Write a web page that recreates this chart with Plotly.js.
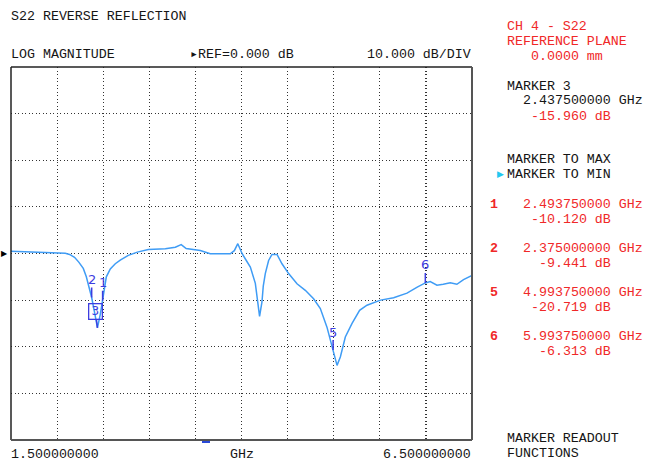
<!DOCTYPE html>
<html>
<head>
<meta charset="utf-8">
<script src="https://cdn.plot.ly/plotly-3.0.1.min.js"></script>
<style>html,body{margin:0;padding:0;background:#fff;}</style>
</head>
<body>
<div id="chart" style="width:645px;height:461px;"></div>
<script>
// ---- data ----
const freqGHz = [1.500, 1.764, 1.991, 2.089, 2.135, 2.189, 2.235, 2.284, 2.317, 2.349, 2.375, 2.410, 2.4375, 2.469, 2.49375, 2.512, 2.534, 2.577, 2.631, 2.685, 2.772, 2.870, 2.989, 3.174, 3.282, 3.346, 3.400, 3.553, 3.661, 3.878, 3.922, 3.960, 4.006, 4.052, 4.096, 4.150, 4.182, 4.196, 4.222, 4.236, 4.258, 4.294, 4.331, 4.385, 4.439, 4.511, 4.602, 4.692, 4.782, 4.855, 4.927, 4.99375, 5.036, 5.072, 5.126, 5.199, 5.281, 5.361, 5.508, 5.650, 5.795, 5.906, 5.99375, 6.047, 6.120, 6.188, 6.264, 6.336, 6.408, 6.500];
const s22dB   = [0.5, 0.3, 0.2, 0.06, -0.2, -0.8, -1.85, -3.2, -5.0, -7.5, -9.441, -13.0, -15.96, -13.0, -10.12, -7.2, -5.0, -3.3, -2.2, -1.4, -0.4, 0.3, 0.85, 1.0, 1.35, 1.9, 1.07, 0.64, -0.07, -0.07, 0.6, 2.1, 0.0, -1.5, -2.9, -6.4, -11.0, -13.5, -10.4, -7.0, -4.3, -1.5, -0.2, -0.2, -2.2, -4.3, -6.5, -7.9, -9.7, -11.8, -15.8, -20.719, -24.0, -22.2, -17.9, -15.0, -12.2, -11.1, -10.0, -9.5, -8.5, -7.2, -6.313, -6.0, -6.8, -6.6, -6.3, -6.6, -5.6, -4.7];

const markerNums = ['1', '2', '3', '5', '6'];
const markerFreq = [2.49375, 2.375, 2.4375, 4.99375, 5.99375];
const markerDb   = [-10.120, -9.441, -15.960, -20.719, -6.313];
const markerFreqText = ['2.493750000 GHz', '2.375000000 GHz', '4.993750000 GHz', '5.993750000 GHz'];
const markerDbText   = ['-10.120 dB', '-9.441 dB', '-20.719 dB', '-6.313 dB'];
const listedMarkers  = ['1', '2', '5', '6'];

const xStart = 1.5, xStop = 6.5, refDb = 0, dbPerDiv = 10;

// ---- layout geometry ----
const L = 11, R = 472, T = 67, B = 440;
const W = R - L, H = B - T;
const px = x => (x - L) / W;
const py = y => (B - y) / H;

const FONT = 'Liberation Mono, DejaVu Sans Mono, monospace';
const RED = '#f02828', BLK = '#151515', BLUE = '#3d3de0';

function txt(text, x, y, color, opts) {
  return Object.assign({
    text: text, xref: 'paper', yref: 'paper', x: px(x), y: py(y),
    xanchor: 'left', yanchor: 'middle', showarrow: false,
    font: {family: FONT, size: 13.3, color: color || BLK}
  }, opts || {});
}

const ann = [];
ann.push(txt('S22 REVERSE REFLECTION', 9, 17));
ann.push(txt('LOG MAGNITUDE', 9, 55));
ann.push(txt('▸REF=' + refDb.toFixed(3) + ' dB', 188, 55));
ann.push(txt(dbPerDiv.toFixed(3) + ' dB/DIV', 473, 55, BLK, {xanchor: 'right'}));
ann.push(txt(xStart.toFixed(9), 9, 454));
ann.push(txt('GHz', 242, 454, BLK, {xanchor: 'center'}));
ann.push(txt(xStop.toFixed(9), 473, 454, BLK, {xanchor: 'right'}));

ann.push(txt('CH 4 - S22', 505, 27, RED));
ann.push(txt('REFERENCE PLANE', 505, 42, RED));
ann.push(txt('0.0000 mm', 529, 57, RED));
ann.push(txt('MARKER 3', 505, 86));
ann.push(txt('2.437500000 GHz', 521, 101));
ann.push(txt('-15.960 dB', 529, 116, RED));
ann.push(txt('MARKER TO MAX', 505, 159));
ann.push(txt('MARKER TO MIN', 505, 174));
ann.push(txt('▶', 506, 174, '#22c8f0', {xanchor: 'right', font: {family: 'DejaVu Sans', size: 9, color: '#22c8f0'}}));
const rowY = [204, 248, 292, 336];
listedMarkers.forEach((m, i) => {
  ann.push(txt('<b>' + m + '</b>', 488, rowY[i], RED));
  ann.push(txt(markerFreqText[i], 521, rowY[i], RED));
  const off = markerDbText[i].length === 9 ? 537 : 529;
  ann.push(txt(markerDbText[i], off, rowY[i] + 15, RED));
});
ann.push(txt('MARKER READOUT', 505, 438));
ann.push(txt('FUNCTIONS', 505, 453));

// reference-level pointer on the left
ann.push({text: '▶', xref: 'paper', yref: 'y', x: 0, y: refDb, xanchor: 'right', yanchor: 'middle',
  xshift: -1, showarrow: false, font: {family: 'DejaVu Sans', size: 8, color: '#000'}});

// marker flags on the trace
markerNums.forEach((m, i) => {
  const boxed = m === '3';
  const a = {
    text: m, x: markerFreq[i], y: markerDb[i], xref: 'x', yref: 'y',
    showarrow: true, arrowhead: 0, arrowwidth: 1.5, arrowcolor: BLUE,
    ax: boxed ? -2 : 0, ay: boxed ? -16 : -18,
    font: {family: 'DejaVu Sans', size: boxed ? 12 : 13, color: BLUE},
    borderpad: 0
  };
  if (boxed) {
    a.bordercolor = BLUE; a.borderwidth = 1.3; a.width = 12; a.height = 14;
    a.bgcolor = 'rgba(255,255,255,0)';
  }
  ann.push(a);
});

const trace = {
  x: freqGHz, y: s22dB, type: 'scatter', mode: 'lines',
  line: {color: '#3f9cf5', width: 1.5, shape: 'linear'},
  hoverinfo: 'skip'
};

const layout = {
  width: 645, height: 461,
  margin: {l: L, r: 645 - R, t: T, b: 461 - B, pad: 0},
  paper_bgcolor: '#fff', plot_bgcolor: '#fff',
  showlegend: false,
  xaxis: {range: [xStart, xStop], dtick: 0.5, tick0: xStart, showticklabels: false, ticks: '',
    showgrid: true, gridcolor: '#333', griddash: '1px,2.5px', gridwidth: 1.2, zeroline: false,
    showline: false, fixedrange: true},
  yaxis: {range: [refDb - 4 * dbPerDiv, refDb + 4 * dbPerDiv], dtick: dbPerDiv, showticklabels: false, ticks: '',
    showgrid: true, gridcolor: '#333', griddash: '1px,2.5px', gridwidth: 1.2, zeroline: false,
    showline: false, fixedrange: true},
  shapes: [
    {type: 'line', xref: 'paper', yref: 'paper', x0: 0, x1: 1, y0: 1, y1: 1, line: {color: '#222', width: 1.5}},
    {type: 'line', xref: 'paper', yref: 'paper', x0: 0, x1: 0, y0: 0, y1: 1, line: {color: '#222', width: 1.5}},
    {type: 'line', xref: 'paper', yref: 'paper', x0: 1, x1: 1, y0: 0, y1: 1, line: {color: '#555', width: 2}},
    {type: 'line', xref: 'paper', yref: 'paper', x0: 0, x1: 1, y0: 0, y1: 0, line: {color: '#555', width: 2}},
    {type: 'line', xref: 'paper', yref: 'paper', x0: px(202), x1: px(210), y0: py(442), y1: py(442), line: {color: '#2a4ad8', width: 2}}
  ],
  annotations: ann
};

Plotly.newPlot('chart', [trace], layout, {displayModeBar: false, staticPlot: true});
</script>
</body>
</html>
